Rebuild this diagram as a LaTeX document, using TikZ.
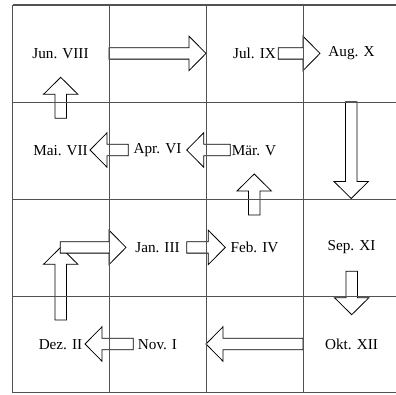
\documentclass[tikz,border=0pt]{standalone}
\usepackage{fontspec}
\setmainfont{Liberation Serif}
\usetikzlibrary{calc}
\tikzset{
  gridline/.style={draw=black!68, line width=1.1pt},
  month/.style={font=\fontsize{15.2}{18}\selectfont, inner sep=0pt},
  arrbox/.style={draw=black, fill=white, line width=0.8pt, line join=miter}
}
\newcommand\blockarr[2]{%
  \coordinate (hb) at ($(#2)!17pt!(#1)$);
  \draw[arrbox] ($(#1)!5.7pt!90:(#2)$) -- ($(hb)!5.7pt!90:(#2)$) -- ($(hb)!17.2pt!90:(#2)$)
     -- (#2) -- ($(hb)!17.2pt!-90:(#2)$) -- ($(hb)!5.7pt!-90:(#2)$) -- ($(#1)!5.7pt!-90:(#2)$) -- cycle;
}
\begin{document}
\begin{tikzpicture}[x=1pt,y=-1pt]
\useasboundingbox (0,0) rectangle (396,394);
% labels
\node[month] (jun) at (60.5,53.5) {Jun. VIII};
\node[month] (jul) at (254.5,53.5) {Jul. IX};
\node[month] (aug) at (351.5,53.5) {Aug. X};
\node[month] (mai) at (60.5,150.5) {Mai. VII};
\node[month] (apr) at (157.5,150.5) {Apr. VI};
\node[month] (mar) at (254,150.5) {Mär. V};
\node[month] (jan) at (157.5,247.5) {Jan. III};
\node[month] (feb) at (254.5,247.5) {Feb. IV};
\node[month] (sep) at (351.5,247.5) {Sep. XI};
\node[month] (dez) at (60.5,344.5) {Dez. II};
\node[month] (nov) at (157.5,344.5) {Nov. I};
\node[month] (okt) at (351.5,344.5) {Okt. XII};
% arrow end points
\coordinate (a1s) at (109,53.4);   \coordinate (a1e) at (206,53.4);
\coordinate (a2s) at (278.3,53.4); \coordinate (a2e) at (320,53.4);
\coordinate (a3s) at (351.2,101.7);\coordinate (a3e) at (351.2,198.5);
\coordinate (a4s) at (351.7,271.3);\coordinate (a4e) at (351.7,314.7);
\coordinate (a5s) at (303,344);    \coordinate (a5e) at (206,344);
\coordinate (a6s) at (133.3,344);  \coordinate (a6e) at (85,344);
\coordinate (a7s) at (60.7,320);   \coordinate (a7e) at (60.7,247.3);
\coordinate (a8s) at (60.3,247.4); \coordinate (a8e) at (126,247.4);
\coordinate (a9s) at (186.7,247.4);\coordinate (a9e) at (225.3,247.4);
\coordinate (a10s) at (254.2,215); \coordinate (a10e) at (254.2,174);
\coordinate (a11s) at (230.3,150); \coordinate (a11e) at (186.7,150);
\coordinate (a12s) at (128.3,150); \coordinate (a12e) at (90,150);
\coordinate (a13s) at (60.7,118.3);\coordinate (a13e) at (60.7,77.3);
% arrows
\blockarr{a1s}{a1e}
\blockarr{a2s}{a2e}
\blockarr{a3s}{a3e}
\blockarr{a4s}{a4e}
\blockarr{a5s}{a5e}
\blockarr{a6s}{a6e}
\blockarr{a7s}{a7e}
\blockarr{a8s}{a8e}
\blockarr{a9s}{a9e}
\blockarr{a10s}{a10e}
\blockarr{a11s}{a11e}
\blockarr{a12s}{a12e}
\blockarr{a13s}{a13e}
% grid on top
\foreach \yy in {5,102.5,199.5,296.5,392.5}
  \draw[gridline] (12.5,\yy) -- (400,\yy);
\foreach \xx in {12.5,109.5,206.5,303.5}
  \draw[gridline] (\xx,5) -- (\xx,392.5);
\end{tikzpicture}
\end{document}
